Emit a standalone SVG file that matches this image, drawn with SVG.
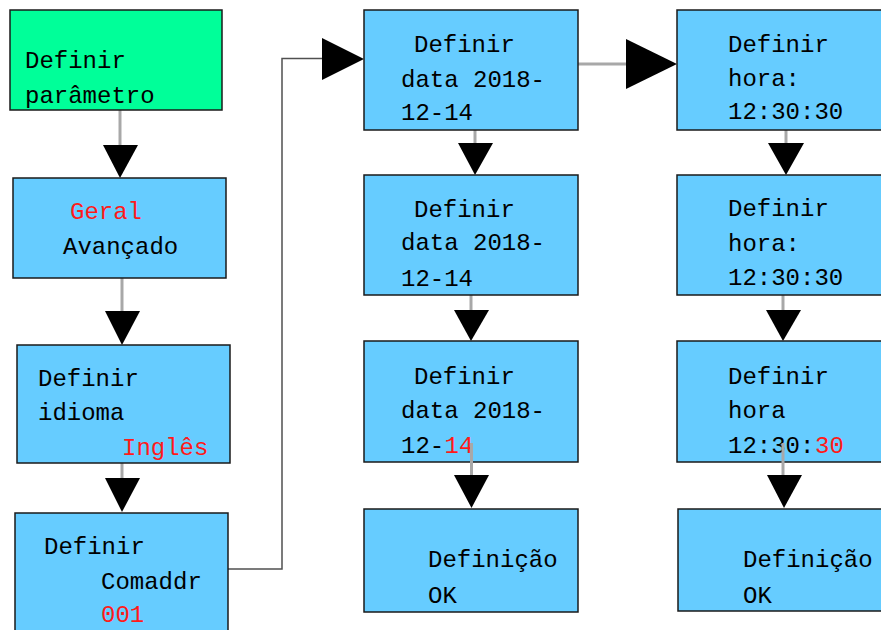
<svg xmlns="http://www.w3.org/2000/svg" width="881" height="630" viewBox="0 0 881 630">
<style>
.box{fill:#66CCFF;stroke:#1a1a1a;stroke-width:1.5}
.green{fill:#00FF99;stroke:#1a1a1a;stroke-width:1.5}
text{font-family:"Liberation Mono","DejaVu Sans Mono",monospace;font-size:24px;fill:#000}
.r{fill:#FF1A1A}
.gl{stroke:#A8A8A8;stroke-width:3;fill:none}
.dl{stroke:#505050;stroke-width:1.5;fill:none}
.ah{fill:#000}
</style>
<rect width="881" height="630" fill="#fff"/>
<g id="connectors">
  <line class="gl" x1="120" y1="110" x2="120" y2="146"/>
  <polygon class="ah" points="103,145 138,145 120,178"/>
  <line class="gl" x1="122" y1="278" x2="122" y2="312"/>
  <polygon class="ah" points="105,311 140,311 122,345"/>
  <line class="gl" x1="122" y1="463" x2="122" y2="479"/>
  <polygon class="ah" points="105,478 140,478 122,512"/>
  <polyline class="dl" points="228,569 282,569 282,58.5 323,58.5"/>
  <polygon class="ah" points="322,38 364,59 322,80"/>
  <line class="gl" x1="475" y1="130" x2="475" y2="144"/>
  <polygon class="ah" points="458,143 493,143 475,175"/>
  <line class="gl" x1="471" y1="295" x2="471" y2="311"/>
  <polygon class="ah" points="454,310 489,310 471,341"/>
  <line class="gl" x1="578" y1="64" x2="627" y2="64"/>
  <polygon class="ah" points="626,39 677,64 626,89"/>
  <line class="gl" x1="786" y1="130" x2="786" y2="144"/>
  <polygon class="ah" points="768,143 804,143 786,175"/>
  <line class="gl" x1="783" y1="295" x2="783" y2="311"/>
  <polygon class="ah" points="766,310 801,310 783,341"/>
</g>
<g id="n1">
  <rect class="green" x="10" y="10" width="212" height="100"/>
  <text x="25" y="68">Definir</text>
  <text x="25" y="103">parâmetro</text>
</g>
<g id="n2">
  <rect class="box" x="13" y="178" width="213" height="100"/>
  <text class="r" x="70" y="219">Geral</text>
  <text x="63" y="254">Avançado</text>
</g>
<g id="n3">
  <rect class="box" x="17" y="345" width="213" height="118"/>
  <text x="38" y="386">Definir</text>
  <text x="38" y="420">idioma</text>
  <text class="r" x="122" y="455">Inglês</text>
</g>
<g id="n4">
  <rect class="box" x="15" y="513" width="213" height="130"/>
  <text x="44" y="554">Definir</text>
  <text x="101" y="589">Comaddr</text>
  <text class="r" x="101" y="622">001</text>
</g>
<g id="n5">
  <rect class="box" x="364" y="10" width="214" height="120"/>
  <text x="414" y="52">Definir</text>
  <text x="401" y="87">data 2018-</text>
  <text x="401" y="120">12-14</text>
</g>
<g id="n6">
  <rect class="box" x="364" y="175" width="214" height="120"/>
  <text x="414" y="217">Definir</text>
  <text x="401" y="250">data 2018-</text>
  <text x="401" y="286">12-14</text>
</g>
<g id="n7">
  <rect class="box" x="364" y="341" width="214" height="121"/>
  <text x="414" y="384">Definir</text>
  <text x="401" y="418">data 2018-</text>
  <text x="401" y="453">12-</text>
  <text class="r" x="444.5" y="453">14</text>
</g>
<g id="n8">
  <rect class="box" x="364" y="509" width="214" height="103"/>
  <text x="428" y="567">Definição</text>
  <text x="428" y="603">OK</text>
</g>
<g id="n9">
  <rect class="box" x="677" y="10" width="215" height="120"/>
  <text x="728" y="52">Definir</text>
  <text x="728" y="86">hora:</text>
  <text x="728" y="119">12:30:30</text>
</g>
<g id="n10">
  <rect class="box" x="677" y="175" width="215" height="120"/>
  <text x="728" y="216">Definir</text>
  <text x="728" y="251">hora:</text>
  <text x="728" y="285">12:30:30</text>
</g>
<g id="n11">
  <rect class="box" x="677" y="341" width="215" height="121"/>
  <text x="728" y="384">Definir</text>
  <text x="728" y="418">hora</text>
  <text x="728" y="453">12:30:</text>
  <text class="r" x="815" y="453">30</text>
</g>
<g id="n12">
  <rect class="box" x="678" y="509" width="214" height="102"/>
  <text x="743" y="567">Definição</text>
  <text x="743" y="603">OK</text>
</g>
<g id="overlay-connectors">
  <line class="gl" x1="471.5" y1="443" x2="471.5" y2="476"/>
  <polygon class="ah" points="454,475 489,475 471.5,508"/>
  <line class="gl" x1="783" y1="443" x2="783" y2="476"/>
  <polygon class="ah" points="767,475 802,475 784,508"/>
</g>
</svg>
